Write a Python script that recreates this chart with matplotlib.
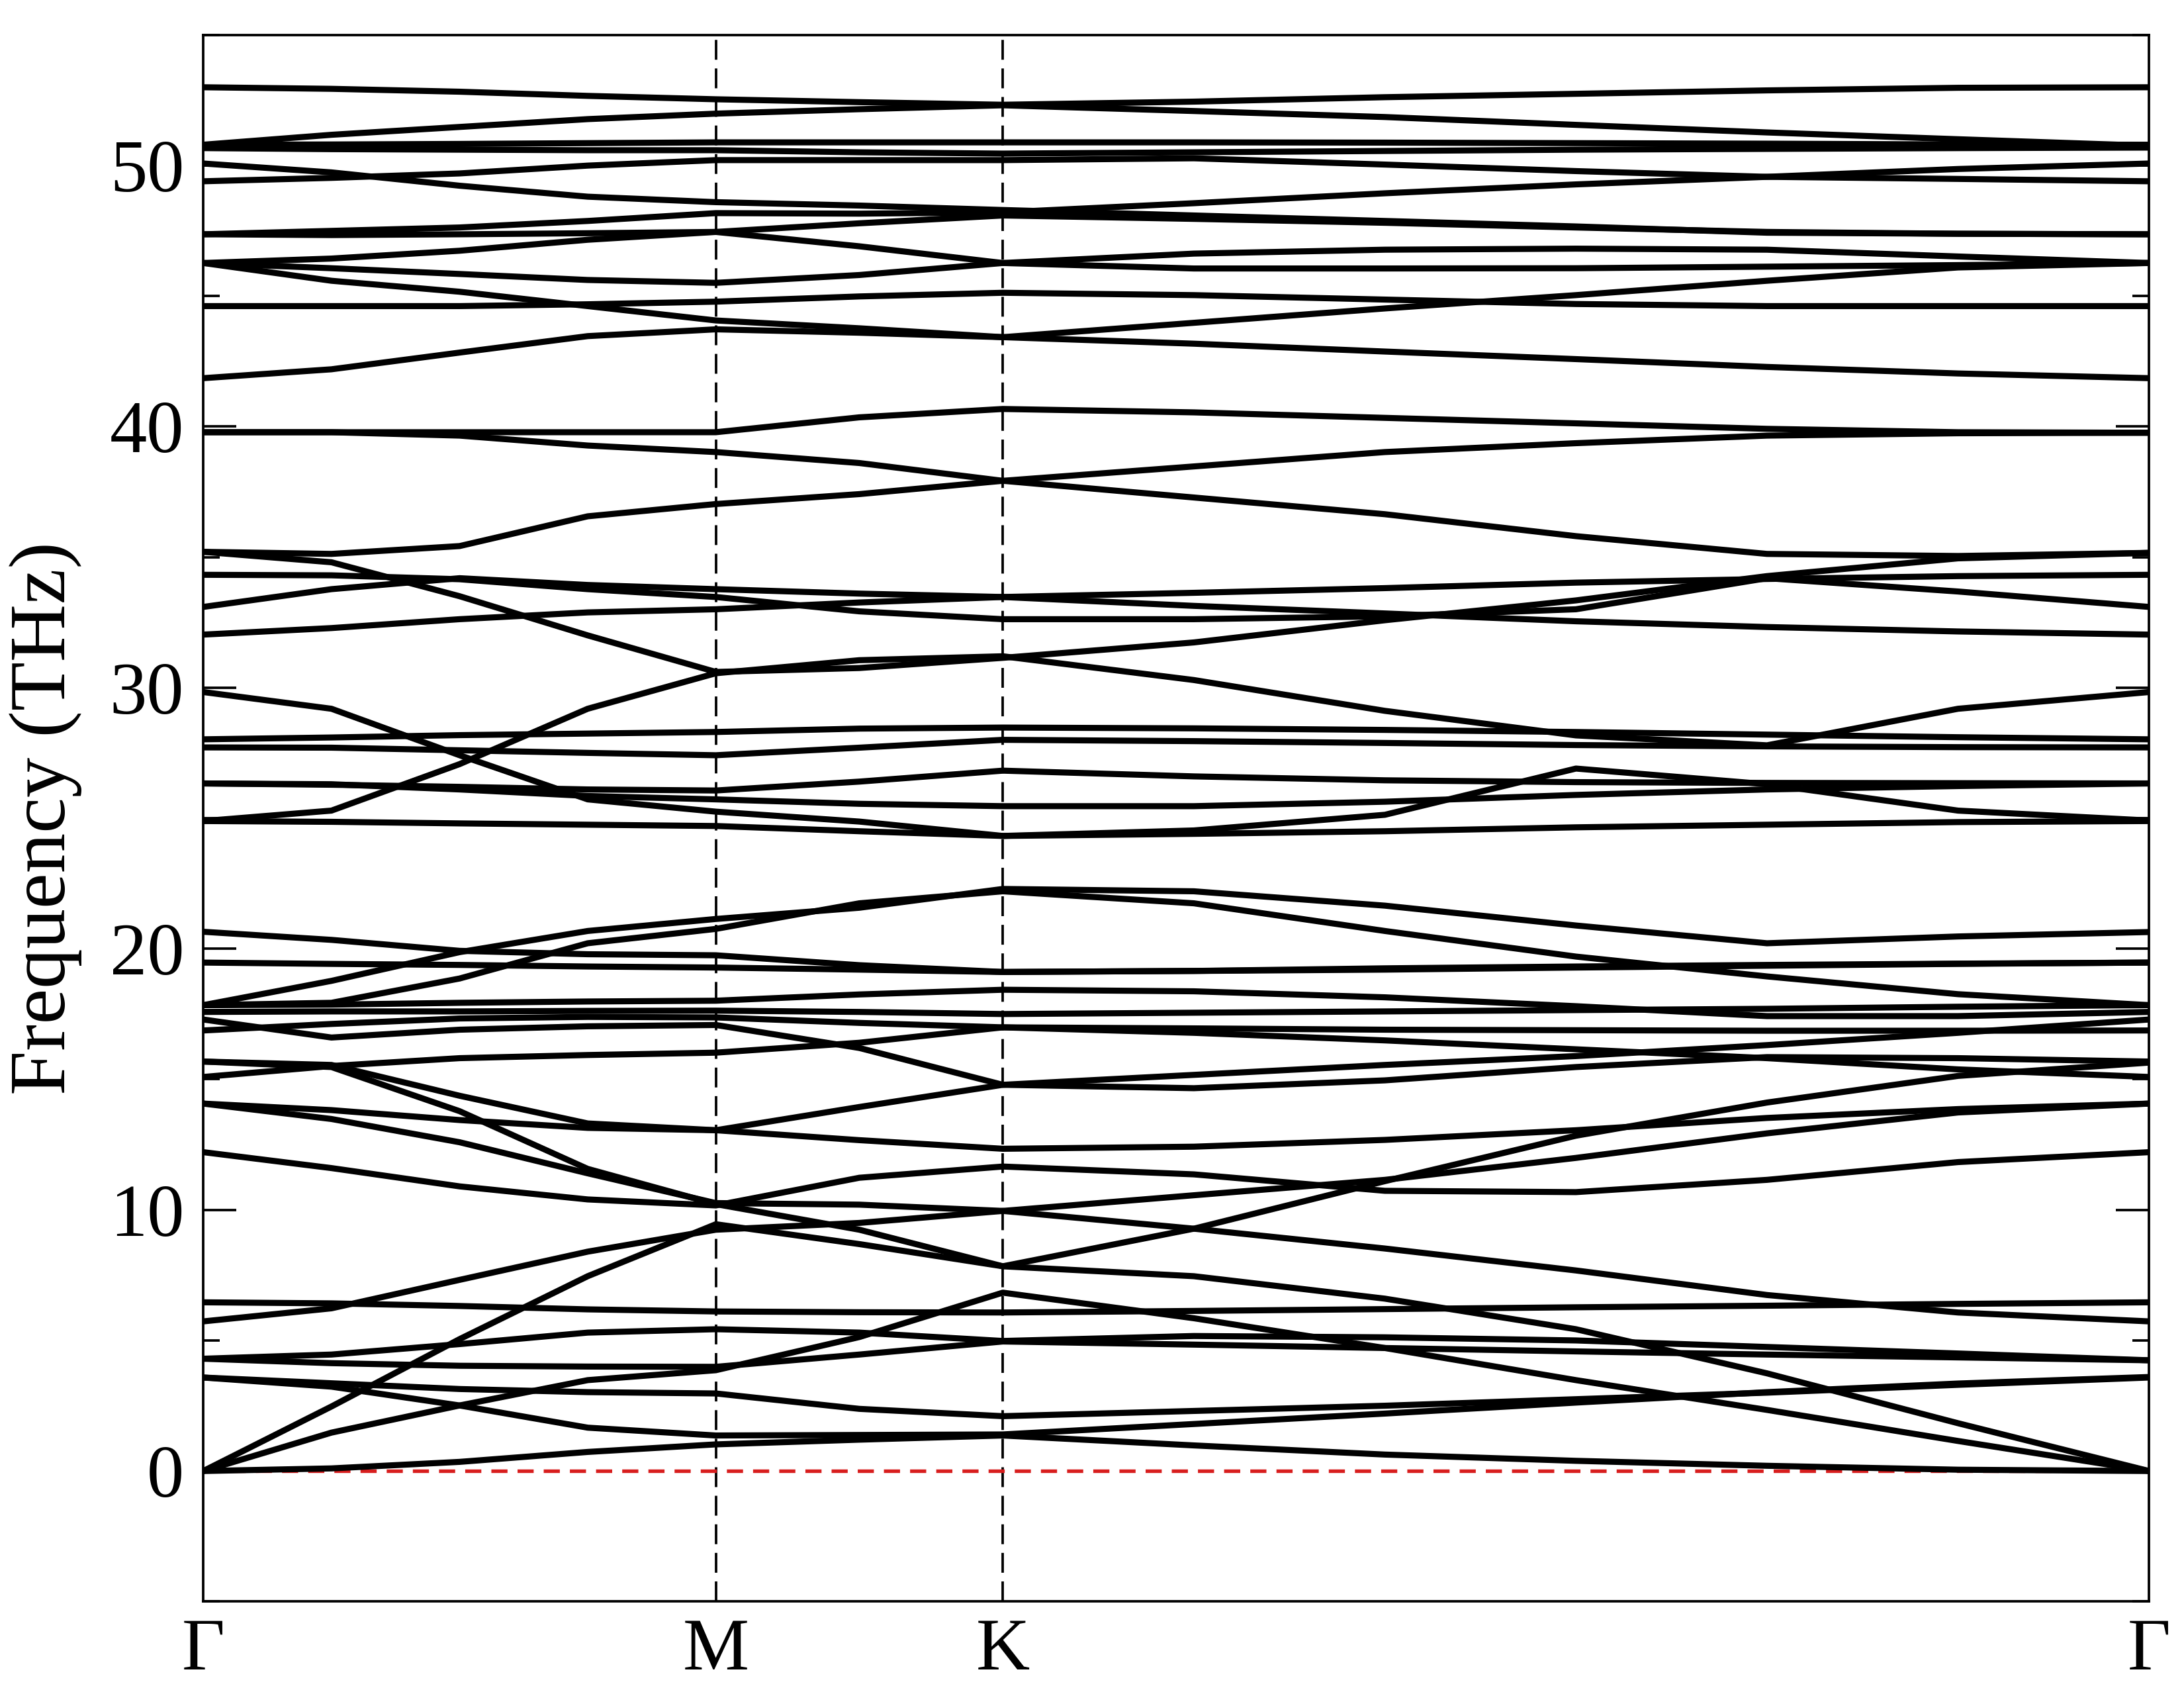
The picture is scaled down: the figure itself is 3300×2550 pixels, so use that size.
import numpy as np
import matplotlib
matplotlib.use("Agg")
import matplotlib.pyplot as plt
from matplotlib.ticker import MultipleLocator

plt.rcParams['font.family'] = ['Liberation Serif', 'DejaVu Serif']

# high-symmetry points, position along the k-path
kpoint_labels = ["Γ", "M", "K", "Γ"]
kpoint_pos = [0.0, 0.2634, 0.4109, 1.0]
# samples per segment (Γ-M, M-K, K-Γ)
seg_steps = [4, 2, 6]

# frequencies (THz) at: Γ, Γ-M quarters, M, mid M-K, K, K-Γ sixths, Γ
band01 = [0, 0.1, 0.35, 0.73, 1.02, 1.2, 1.36, 0.98, 0.63, 0.39, 0.2, 0.05, 0]
band02 = [0, 1.47, 2.51, 3.48, 3.86, 5.13, 6.83, 5.85, 4.71, 3.48, 2.34, 1.15, 0]
band03 = [0, 2.47, 5.05, 7.46, 9.45, 8.69, 7.84, 7.46, 6.6, 5.43, 3.74, 1.83, 0]
band04 = [4.30, 4.13, 4.03, 4.0, 3.99, 4.46, 4.96, 4.84, 4.71, 4.58, 4.46, 4.35, 4.24]
band05 = [4.30, 4.46, 4.86, 5.3, 5.43, 5.3, 4.98, 5.17, 5.12, 5.0, 4.75, 4.5, 4.24]
band06 = [3.58, 3.36, 3.14, 3.02, 2.97, 2.38, 2.1, 2.3, 2.5, 2.75, 3.0, 3.3, 3.58]
band07 = [3.58, 3.23, 2.51, 1.66, 1.36, 1.38, 1.4, 1.8, 2.2, 2.62, 3.02, 3.35, 3.6]
band08 = [5.73, 6.23, 7.32, 8.4, 9.24, 9.5, 9.96, 9.28, 8.52, 7.68, 6.74, 6.07, 5.73]
band09 = [6.46, 6.42, 6.32, 6.19, 6.11, 6.08, 6.07, 6.13, 6.2, 6.27, 6.33, 6.4, 6.46]
band10 = [12.21, 11.6, 10.9, 10.4, 10.17, 11.23, 11.66, 11.36, 10.73, 10.68, 11.15, 11.83, 12.21]
band11 = [14.07, 13.82, 13.44, 13.14, 13.05, 12.67, 12.34, 12.42, 12.68, 13.05, 13.52, 13.86, 14.07]
band12 = [14.07, 13.48, 12.59, 11.4, 10.26, 10.2, 9.96, 10.56, 11.15, 11.99, 12.93, 13.73, 14.07]
band13 = [15.68, 15.55, 14.37, 13.31, 13.05, 13.94, 14.79, 14.66, 14.96, 15.47, 15.85, 15.81, 15.68]
band14 = [15.68, 15.47, 13.78, 11.57, 10.22, 9.24, 7.84, 9.28, 11.1, 12.84, 14.11, 15.13, 15.64]
band15 = [15.09, 15.51, 15.81, 15.93, 16.02, 16.4, 16.99, 16.78, 16.49, 16.15, 15.81, 15.38, 15.09]
band16 = [17.29, 16.6, 16.9, 17.03, 17.08, 16.2, 14.79, 15.17, 15.55, 15.89, 16.31, 16.78, 17.29]
band17 = [16.87, 17.12, 17.33, 17.39, 17.37, 17.16, 16.99, 16.95, 16.9, 16.88, 16.86, 16.86, 16.87]
band18 = [17.84, 17.86, 17.93, 17.98, 18.01, 18.25, 18.43, 18.37, 18.14, 17.8, 17.42, 17.42, 17.58]
band19 = [17.58, 17.6, 17.6, 17.62, 17.63, 17.58, 17.5, 17.55, 17.6, 17.65, 17.7, 17.78, 17.84]
band20 = [17.84, 18.77, 19.87, 20.68, 21.14, 21.57, 22.29, 22.2, 21.65, 20.89, 20.21, 20.47, 20.64]
band21 = [17.84, 17.93, 18.86, 20.21, 20.76, 21.74, 22.2, 21.74, 20.68, 19.7, 18.94, 18.26, 17.84]
band22 = [20.65, 20.34, 19.92, 19.79, 19.75, 19.37, 19.11, 19.15, 19.25, 19.32, 19.38, 19.43, 19.47]
band23 = [19.47, 19.42, 19.38, 19.32, 19.28, 19.2, 19.11, 19.15, 19.2, 19.28, 19.35, 19.42, 19.47]
band24 = [29.83, 29.19, 27.41, 25.72, 25.25, 24.87, 24.32, 24.53, 25.13, 26.9, 26.3, 25.29, 24.91]
band25 = [28.02, 28.09, 28.18, 28.24, 28.3, 28.43, 28.47, 28.44, 28.38, 28.3, 28.2, 28.1, 28.02]
band26 = [27.71, 27.7, 27.6, 27.5, 27.41, 27.7, 28.0, 27.95, 27.88, 27.8, 27.75, 27.72, 27.71]
band27 = [24.89, 25.29, 27.07, 29.19, 30.55, 31.05, 31.2, 30.29, 29.11, 28.17, 27.79, 29.19, 29.83]
band28 = [35.2, 34.8, 33.5, 32.0, 30.6, 30.75, 31.14, 31.73, 32.58, 33.34, 34.27, 34.95, 35.16]
band29 = [35.2, 35.12, 35.42, 36.56, 37.03, 37.41, 37.92, 37.28, 36.64, 35.8, 35.12, 35.04, 35.16]
band30 = [39.78, 39.78, 39.65, 39.27, 39.02, 38.6, 37.92, 38.47, 39.02, 39.36, 39.65, 39.74, 39.76]
band31 = [39.78, 39.78, 39.78, 39.78, 39.78, 40.35, 40.67, 40.54, 40.33, 40.12, 39.91, 39.78, 39.76]
band32 = [33.09, 33.77, 34.19, 33.93, 33.77, 33.6, 33.47, 33.63, 33.81, 34.02, 34.16, 34.27, 34.32]
band33 = [34.32, 34.3, 34.15, 33.77, 33.47, 32.92, 32.62, 32.62, 32.73, 33.0, 34.19, 33.68, 33.09]
band34 = [32.03, 32.28, 32.62, 32.88, 33.0, 33.26, 33.47, 33.13, 32.84, 32.54, 32.32, 32.15, 32.03]
band35 = [26.33, 26.28, 26.2, 26.1, 26.06, 26.4, 26.82, 26.6, 26.45, 26.38, 26.35, 26.34, 26.33]
band36 = [24.89, 24.86, 24.8, 24.75, 24.7, 24.5, 24.32, 24.4, 24.5, 24.65, 24.75, 24.85, 24.89]
band37 = [26.33, 26.3, 26.1, 25.85, 25.72, 25.55, 25.46, 25.46, 25.63, 25.89, 26.1, 26.23, 26.33]
band38 = [41.85, 42.19, 42.83, 43.46, 43.72, 43.59, 43.42, 43.17, 42.87, 42.58, 42.28, 42.03, 41.85]
band39 = [44.61, 44.61, 44.61, 44.68, 44.78, 44.98, 45.12, 45.03, 44.86, 44.69, 44.61, 44.61, 44.61]
band40 = [46.26, 45.58, 45.16, 44.61, 44.06, 43.76, 43.42, 43.97, 44.52, 45.03, 45.58, 46.09, 46.26]
band41 = [46.26, 46.06, 45.84, 45.61, 45.5, 45.8, 46.26, 46.05, 46.05, 46.06, 46.12, 46.18, 46.26]
band42 = [46.26, 46.43, 46.73, 47.15, 47.45, 47.78, 48.08, 47.95, 47.8, 47.62, 47.45, 47.38, 47.36]
band43 = [47.36, 47.33, 47.36, 47.4, 47.45, 46.9, 46.26, 46.62, 46.77, 46.81, 46.77, 46.51, 46.26]
band44 = [47.36, 47.49, 47.62, 47.87, 48.17, 48.15, 48.2, 48.55, 48.93, 49.27, 49.56, 49.86, 50.07]
band45 = [50.07, 49.73, 49.22, 48.8, 48.59, 48.46, 48.29, 48.08, 47.87, 47.66, 47.42, 47.38, 47.36]
band46 = [49.39, 49.52, 49.69, 49.99, 50.2, 50.2, 50.2, 50.27, 50.03, 49.78, 49.56, 49.48, 49.39]
band47 = [50.66, 50.62, 50.6, 50.58, 50.58, 50.5, 50.45, 50.5, 50.55, 50.6, 50.63, 50.66, 50.68]
band48 = [50.79, 50.8, 50.82, 50.85, 50.88, 50.88, 50.88, 50.88, 50.87, 50.85, 50.83, 50.8, 50.79]
band49 = [50.79, 51.17, 51.47, 51.77, 51.98, 52.15, 52.3, 52.08, 51.85, 51.55, 51.26, 51.0, 50.75]
band50 = [52.99, 52.93, 52.82, 52.66, 52.53, 52.42, 52.32, 52.44, 52.61, 52.74, 52.87, 52.97, 52.99]

bands = [band01, band02, band03, band04, band05, band06, band07, band08, band09, band10,
         band11, band12, band13, band14, band15, band16, band17, band18, band19, band20,
         band21, band22, band23, band24, band25, band26, band27, band28, band29, band30,
         band31, band32, band33, band34, band35, band36, band37, band38, band39, band40,
         band41, band42, band43, band44, band45, band46, band47, band48, band49, band50]

# k-path sample positions
kx = [kpoint_pos[0]]
for i, n in enumerate(seg_steps):
    kx += list(np.linspace(kpoint_pos[i], kpoint_pos[i + 1], n + 1)[1:])
kx = np.array(kx)

fig = plt.figure(figsize=(11, 8.5), dpi=300)
ax = fig.add_axes([0.0931, 0.0512, 0.8909, 0.9282])

for b in bands:
    ax.plot(kx, b, color='black', lw=2.2, solid_joinstyle='round',
            solid_capstyle='round', zorder=3)

# zero line and high-symmetry markers
ax.axhline(0, color='#d81e1e', lw=1.3, ls=(0, (4.5, 2.8)), zorder=2)
for kp in kpoint_pos[1:-1]:
    ax.axvline(kp, color='black', lw=0.9, ls=(0, (8, 3.5)), zorder=1)

ax.set_xlim(kpoint_pos[0], kpoint_pos[-1])
ax.set_ylim(-5, 55)
ax.set_xticks(kpoint_pos)
ax.set_xticklabels(kpoint_labels)
ax.yaxis.set_major_locator(MultipleLocator(10))
ax.yaxis.set_minor_locator(MultipleLocator(5))
ax.tick_params(axis='y', which='both', direction='in', left=True, right=True,
               width=0.9, labelsize=27, pad=7)
ax.tick_params(axis='y', which='major', length=12)
ax.tick_params(axis='y', which='minor', length=6)
ax.tick_params(axis='x', length=0, labelsize=27, pad=6)
for s in ax.spines.values():
    s.set_linewidth(0.9)

ax.set_ylabel("Frequency (THz)", fontsize=29, labelpad=10)

fig.savefig("out.png", dpi=300)
